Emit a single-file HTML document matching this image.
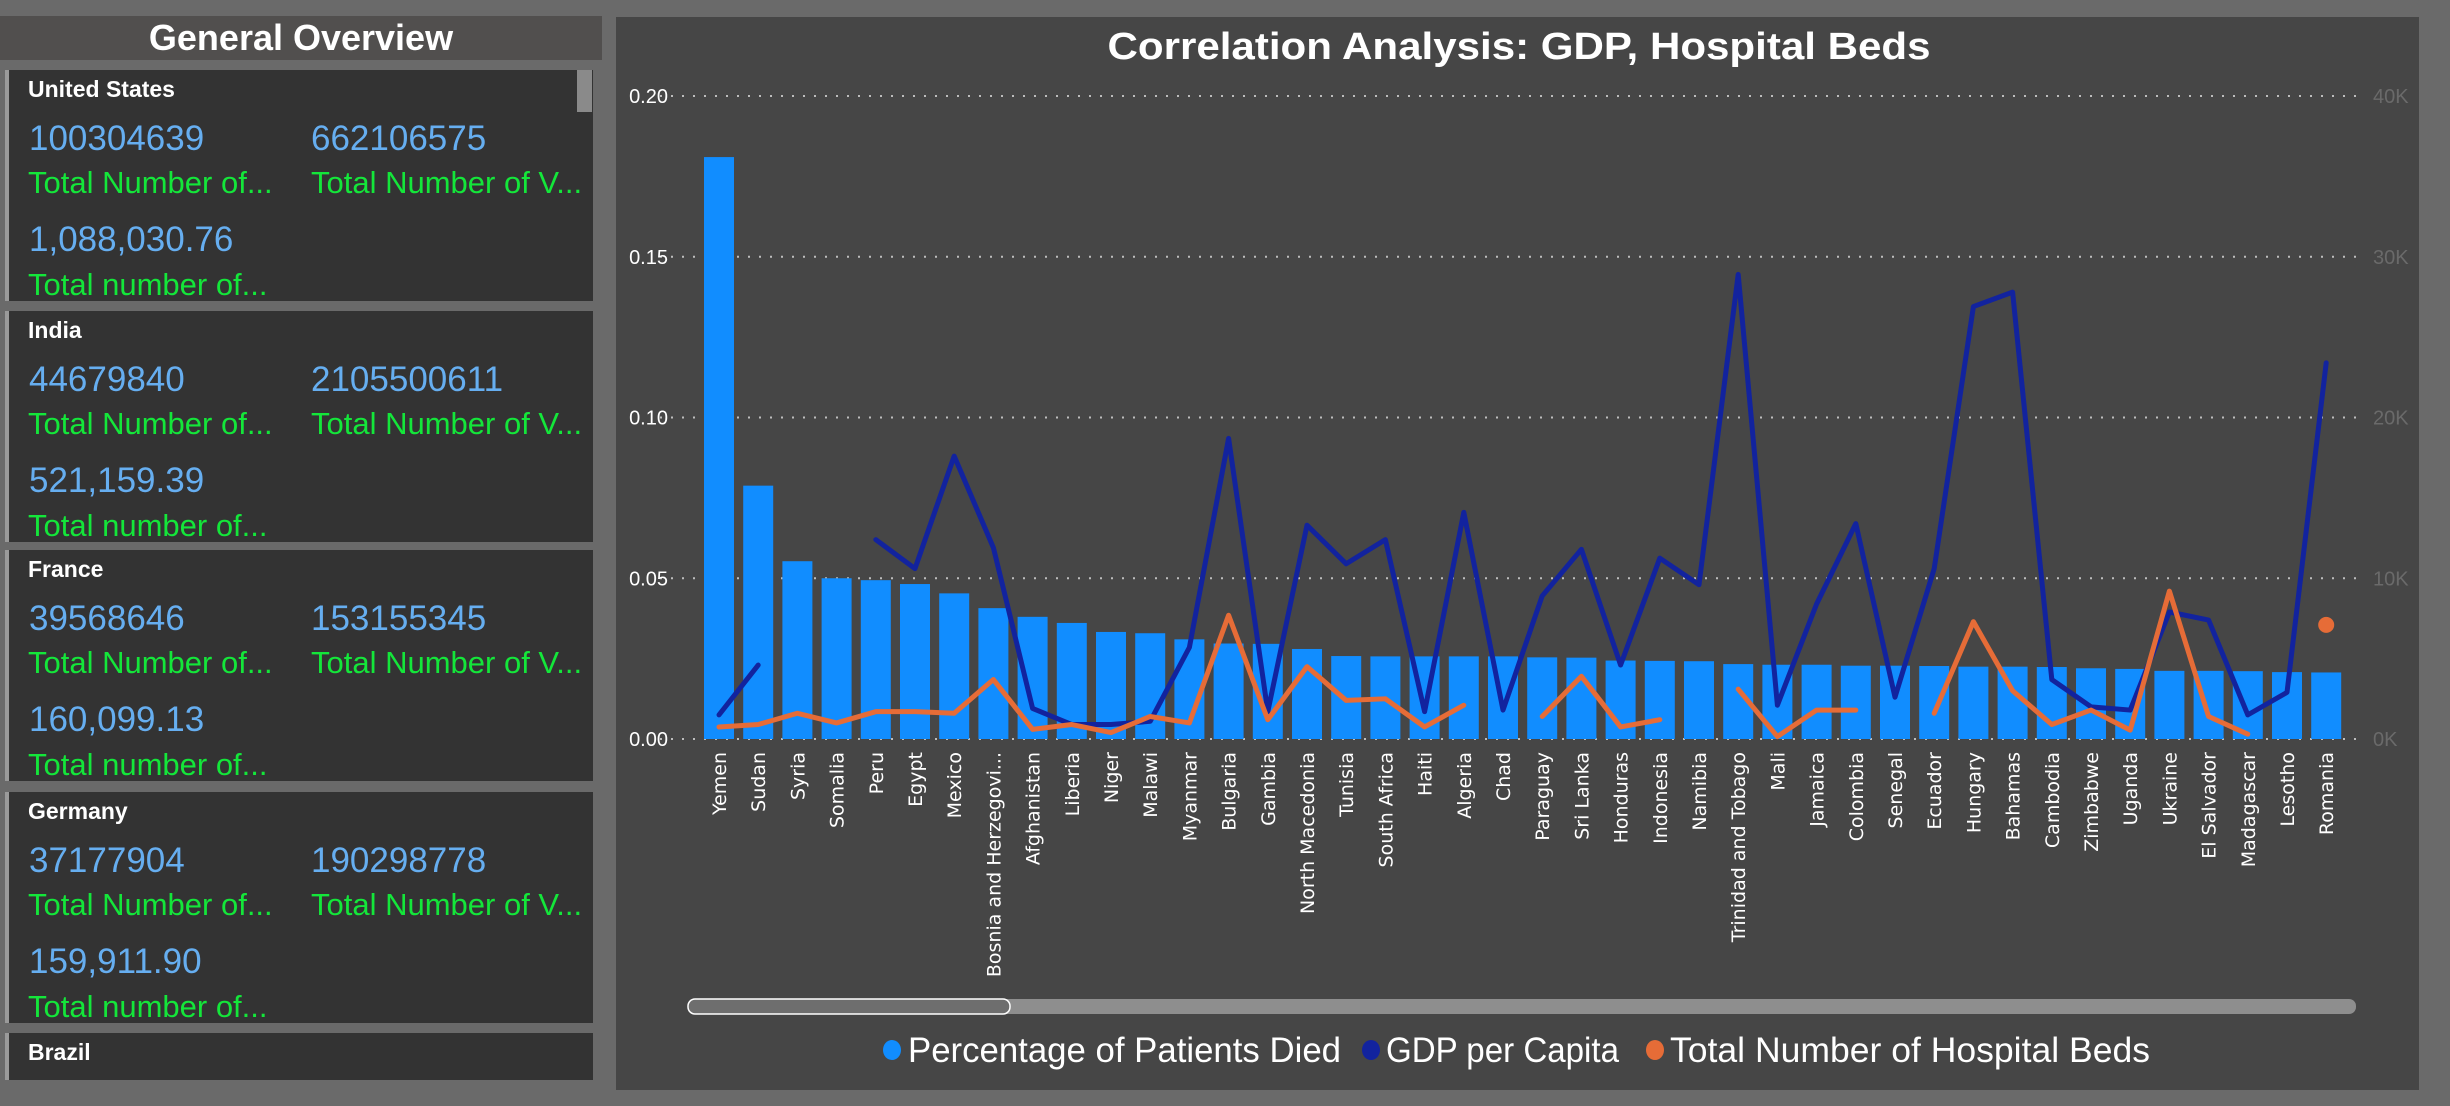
<!DOCTYPE html>
<html><head><meta charset="utf-8"><style>
html,body{margin:0;padding:0;background:#6a6a6a;width:2450px;height:1106px;overflow:hidden}
svg{display:block}
</style></head><body>
<svg id="root" width="2450" height="1106" xmlns="http://www.w3.org/2000/svg" font-family="Liberation Sans, sans-serif">
<rect x="0" y="0" width="2450" height="1106" fill="#6a6a6a"/>
<g>
<rect x="0" y="16" width="602" height="44" fill="#514f4e"/>
<text x="301" y="50" text-anchor="middle" font-size="36" font-weight="bold" fill="#fff">General Overview</text>
<g id="cards"></g>
</g>
<g>
<rect x="616" y="17" width="1803" height="1073" fill="#464646"/>
<text x="1519" y="59" text-anchor="middle" font-size="38" font-weight="bold" fill="#fff" textLength="823" lengthAdjust="spacingAndGlyphs">Correlation Analysis: GDP, Hospital Beds</text>
<g id="chart"></g>
</g>
</svg>
<script>
const categories=["Yemen","Sudan","Syria","Somalia","Peru","Egypt","Mexico","Bosnia and Herzegovi...","Afghanistan","Liberia","Niger","Malawi","Myanmar","Bulgaria","Gambia","North Macedonia","Tunisia","South Africa","Haiti","Algeria","Chad","Paraguay","Sri Lanka","Honduras","Indonesia","Namibia","Trinidad and Tobago","Mali","Jamaica","Colombia","Senegal","Ecuador","Hungary","Bahamas","Cambodia","Zimbabwe","Uganda","Ukraine","El Salvador","Madagascar","Lesotho","Romania"];
const pctDied=[0.181,0.0788,0.0553,0.050,0.0494,0.0482,0.0453,0.0407,0.038,0.0361,0.0333,0.0329,0.031,0.0297,0.0296,0.028,0.0258,0.0257,0.0257,0.0257,0.0257,0.0254,0.0253,0.0244,0.0243,0.0242,0.0233,0.0231,0.0231,0.0228,0.0228,0.0227,0.0225,0.0225,0.0224,0.022,0.0218,0.0212,0.0212,0.0211,0.0208,0.0207];
const gdp=[1.5,4.6,null,null,12.4,10.6,17.6,11.9,1.9,0.9,0.9,1.1,5.7,18.7,1.7,13.3,10.9,12.4,1.7,14.1,1.8,8.9,11.8,4.6,11.25,9.6,28.9,2.1,8.4,13.4,2.6,10.6,26.9,27.8,3.7,2.0,1.8,7.9,7.4,1.5,2.9,23.4];
const beds=[0.75,0.9,1.6,1.0,1.7,1.7,1.6,3.7,0.6,0.9,0.4,1.4,1.0,7.7,1.2,4.5,2.4,2.5,0.75,2.1,null,1.4,3.9,0.75,1.2,null,3.1,0.15,1.8,1.8,null,1.6,7.3,3.0,0.9,1.8,0.55,9.2,1.4,0.3,null,7.1];
const leftTicks=["0.00","0.05","0.10","0.15","0.20"];
const rightTicks=["0K","10K","20K","30K","40K"];
const cardNames=["United States","India","France","Germany"];
const cardV1=["100304639","44679840","39568646","37177904"];
const cardV2=["662106575","2105500611","153155345","190298778"];
const cardV3=["1,088,030.76","521,159.39","160,099.13","159,911.90"];

const NS="http://www.w3.org/2000/svg";
function mk(tag,attrs,parent,txt){const e=document.createElementNS(NS,tag);for(const k in attrs)e.setAttribute(k,attrs[k]);if(txt!==undefined)e.textContent=txt;parent.appendChild(e);return e;}

const cards=document.getElementById('cards');
const cardTops=[70,311,550,792];
cardNames.forEach((n,i)=>{
 const t=cardTops[i];
 const g=mk('g',{},cards);
 
 
 mk('rect',{x:5,y:t,width:588,height:231,fill:'#333333'},g);
 mk('rect',{x:5,y:t,width:4,height:231,fill:'#9a9a9a'},g);
 const a=mk('text',{x:28,y:t+27,'font-size':23,'font-weight':'bold',fill:'#fff'},g,n);
 
 const v1=mk('text',{x:29,y:t+80,'font-size':35,fill:'#66aef0'},g,cardV1[i]);
 
 const v2=mk('text',{x:311,y:t+80,'font-size':35,fill:'#66aef0'},g,cardV2[i]);
 
 const l1=mk('text',{x:28,y:t+123,'font-size':31,fill:'#14e63a'},g,"Total Number of...");
 
 const l2=mk('text',{x:311,y:t+123,'font-size':31,fill:'#14e63a'},g,"Total Number of V...");
 
 const v3=mk('text',{x:29,y:t+181,'font-size':35,fill:'#66aef0'},g,cardV3[i]);
 
 const l3=mk('text',{x:28,y:t+225,'font-size':31,fill:'#14e63a'},g,"Total number of...");
 
});
{const g=mk('g',{},cards);
 
 mk('rect',{x:5,y:1033,width:588,height:47,fill:'#333333'},g);
 mk('rect',{x:5,y:1033,width:4,height:47,fill:'#9a9a9a'},g);
 const a=mk('text',{x:28,y:1060,'font-size':23,'font-weight':'bold',fill:'#fff'},g,"Brazil");
 
 const sb=mk('rect',{x:577,y:70,width:15,height:42,fill:'#8a8a8a'},cards);
 
}

const ch=document.getElementById('chart');
const Y0=739,YT=96;
const yL=v=>Y0-(v/0.20)*(Y0-YT);
const yR=v=>Y0-(v/40)*(Y0-YT);
const x=i=>719+i*39.2;
const BW=30;
leftTicks.forEach((t,i)=>{
 const v=i*0.05,yy=yL(v);
 const gl=mk('line',{x1:660,x2:2362,y1:yy,y2:yy,stroke:'#bdbdbd','stroke-width':2,'stroke-dasharray':'2 9'},ch);
 
 const tl=mk('text',{x:668,y:yy+7,'text-anchor':'end','font-size':20,fill:'#fff'},ch,t);
 
});
rightTicks.forEach((t,i)=>{
 const yy=yR(i*10);
 const tl=mk('text',{x:2373,y:yy+7,'font-size':20,fill:'#6a6a6a'},ch,t);
 
});
categories.forEach((c,i)=>{
 const b=mk('rect',{x:x(i)-BW/2,y:yL(pctDied[i]),width:BW,height:Y0-yL(pctDied[i]),fill:'#118DFF'},ch);
 
 
 const tx=mk('text',{x:0,y:0,transform:`translate(${x(i)+7},752) rotate(-90)`,'text-anchor':'end','font-size':19,'font-family':'DejaVu Sans, sans-serif',fill:'#fff'},ch,c);
 
 
});
function drawLine(vals,color,name){
 let seg=[];const segs=[];
 vals.forEach((v,i)=>{if(v===null){if(seg.length)segs.push(seg);seg=[];}else seg.push([x(i),yR(v)]);});
 if(seg.length)segs.push(seg);
 segs.forEach(s=>{
  if(s.length===1){const d=mk('circle',{cx:s[0][0],cy:s[0][1],r:8,fill:color},ch);
   }
  else{const p=mk('polyline',{points:s.map(q=>q.join(',')).join(' '),fill:'none',stroke:color,'stroke-width':5,'stroke-linejoin':'round','stroke-linecap':'round'},ch);
   }
 });
}
drawLine(gdp,'#12239E','gdp-per-capita-line');
drawLine(beds,'#E66C37','hospital-beds-line');

const tr=mk('rect',{x:688,y:999,width:1668,height:15,rx:7,fill:'#8e8e8e'},ch);

const th=mk('rect',{x:688,y:999,width:322,height:15,rx:7,fill:'#6e6e6e',stroke:'#fff','stroke-width':1.5},ch);


const legend=[["Percentage of Patients Died","#118DFF",892,908,433],["GDP per Capita","#12239E",1371,1386,233],["Total Number of Hospital Beds","#E66C37",1655,1670,480]];
legend.forEach(l=>{
 const g=mk('g',{},ch);
 
 mk('ellipse',{cx:l[2],cy:1050,rx:9,ry:10,fill:l[1]},g);
 mk('text',{x:l[3],y:1062,'font-size':35,fill:'#fff',textLength:l[4],lengthAdjust:'spacingAndGlyphs'},g,l[0]);
});
</script>
</body></html>
